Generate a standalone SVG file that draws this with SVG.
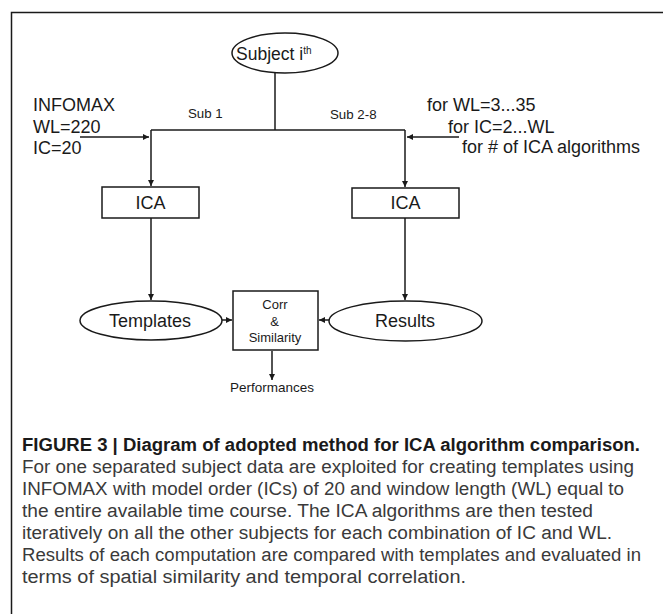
<svg xmlns="http://www.w3.org/2000/svg" width="663" height="614" viewBox="0 0 663 614">
<style>
.ln{fill:none;stroke:#1a1a1a;stroke-width:1.5}
.nd{fill:#fff;stroke:#1a1a1a;stroke-width:1.5}
.t{font-family:"Liberation Sans",Arial,sans-serif;fill:#1a1a1a}
.c{font-family:"Liberation Sans",Arial,sans-serif;fill:#3a3a3a;font-size:18px}
.cb{font-family:"Liberation Sans",Arial,sans-serif;fill:#1a1a1a;font-size:18px;font-weight:bold}
</style>
<defs>
<marker id="ah" viewBox="0 0 10 10" refX="10" refY="5" markerWidth="6" markerHeight="6" markerUnits="userSpaceOnUse" orient="auto">
<path d="M0,0 L10,5 L0,10 z" fill="#1a1a1a"/>
</marker>
</defs>
<rect width="663" height="614" fill="#fff"/>
<path class="ln" d="M11.5,614 V12.5 H663"/>
<g id="connectors">
<path class="ln" d="M275,72 V130"/>
<path class="ln" d="M151,130 H405"/>
<path class="ln" d="M151,130 V186" marker-end="url(#ah)"/>
<path class="ln" d="M405,130 V187" marker-end="url(#ah)"/>
<path class="ln" d="M80,137 H149" marker-end="url(#ah)"/>
<path class="ln" d="M459,137 H407" marker-end="url(#ah)"/>
<path class="ln" d="M151,218 V300" marker-end="url(#ah)"/>
<path class="ln" d="M405,218 V300" marker-end="url(#ah)"/>
<path class="ln" d="M222,320 H232" marker-end="url(#ah)"/>
<path class="ln" d="M329,320 H319" marker-end="url(#ah)"/>
<path class="ln" d="M272,351 V380" marker-end="url(#ah)"/>
</g>
<g id="subject">
<ellipse class="nd" cx="285" cy="53" rx="53" ry="20"/>
<text class="t" x="236" y="59.5" font-size="17.5">Subject i<tspan font-size="10" dy="-6">th</tspan></text>
</g>
<g id="label-sub1"><text class="t" x="188" y="118" font-size="13.3">Sub 1</text></g>
<g id="label-sub28"><text class="t" x="330" y="119" font-size="13.3">Sub 2-8</text></g>
<g id="label-infomax">
<text class="t" x="33" y="111" font-size="18">INFOMAX</text>
<text class="t" x="33" y="133" font-size="18">WL=220</text>
<text class="t" x="33" y="154" font-size="18">IC=20</text>
</g>
<g id="label-loops">
<text class="t" x="427" y="111" font-size="18">for WL=3...35</text>
<text class="t" x="448" y="133" font-size="18">for IC=2...WL</text>
<text class="t" x="462" y="153" font-size="18">for # of ICA algorithms</text>
</g>
<g id="ica1">
<rect class="nd" x="102" y="187" width="97" height="31"/>
<text class="t" x="150.5" y="209" font-size="18" text-anchor="middle">ICA</text>
</g>
<g id="ica2">
<rect class="nd" x="352" y="188" width="107" height="30"/>
<text class="t" x="405.5" y="209" font-size="18" text-anchor="middle">ICA</text>
</g>
<g id="templates">
<ellipse class="nd" cx="151" cy="320.5" rx="71" ry="19.5"/>
<text class="t" x="150" y="327" font-size="18" text-anchor="middle">Templates</text>
</g>
<g id="results">
<ellipse class="nd" cx="405.5" cy="321" rx="76.5" ry="20"/>
<text class="t" x="405" y="327" font-size="18" text-anchor="middle">Results</text>
</g>
<g id="corr">
<rect class="nd" x="233" y="291" width="85" height="59"/>
<text class="t" x="275" y="309" font-size="13" text-anchor="middle">Corr</text>
<text class="t" x="274.5" y="326" font-size="13" text-anchor="middle">&amp;</text>
<text class="t" x="275" y="342" font-size="13" text-anchor="middle">Similarity</text>
</g>
<g id="performances"><text class="t" x="272" y="392" font-size="13.5" text-anchor="middle">Performances</text></g>
<g id="caption">
<text class="cb" x="22" y="451" textLength="618" lengthAdjust="spacingAndGlyphs">FIGURE 3 | Diagram of adopted method for ICA algorithm comparison.</text>
<text class="c" x="22" y="473" textLength="612" lengthAdjust="spacingAndGlyphs">For one separated subject data are exploited for creating templates using</text>
<text class="c" x="22" y="495" textLength="602" lengthAdjust="spacingAndGlyphs">INFOMAX with model order (ICs) of 20 and window length (WL) equal to</text>
<text class="c" x="22" y="517" textLength="571" lengthAdjust="spacingAndGlyphs">the entire available time course. The ICA algorithms are then tested</text>
<text class="c" x="22" y="539" textLength="590" lengthAdjust="spacingAndGlyphs">iteratively on all the other subjects for each combination of IC and WL.</text>
<text class="c" x="22" y="561" textLength="619" lengthAdjust="spacingAndGlyphs">Results of each computation are compared with templates and evaluated in</text>
<text class="c" x="22" y="583" textLength="444" lengthAdjust="spacingAndGlyphs">terms of spatial similarity and temporal correlation.</text>
</g>
</svg>
